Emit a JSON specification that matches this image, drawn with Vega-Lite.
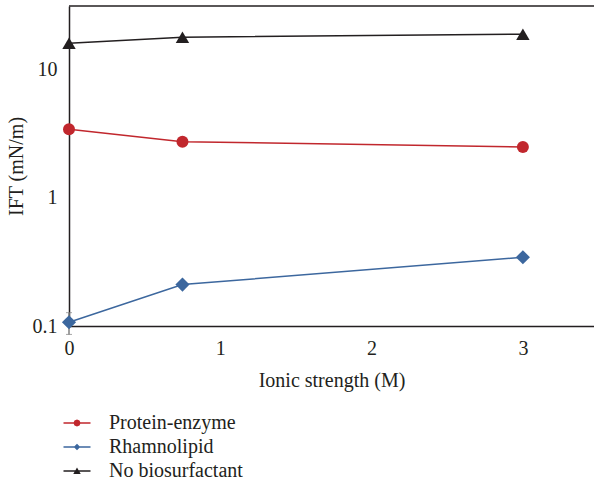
{
  "$schema": "https://vega.github.io/schema/vega-lite/v6.json",
  "width": 525,
  "height": 320,
  "autosize": "none",
  "padding": {"left": 69, "top": 6, "right": 0, "bottom": 161},
  "config": {
    "view": {"stroke": null},
    "font": "Liberation Serif",
    "axis": {
      "grid": false,
      "ticks": false,
      "domainColor": "#231f20",
      "domainWidth": 1.5,
      "labelFont": "Liberation Serif",
      "labelFontSize": 20,
      "labelColor": "#231f20",
      "titleFont": "Liberation Serif",
      "titleFontSize": 20,
      "titleFontWeight": "normal",
      "titleColor": "#231f20"
    }
  },
  "datasets": {
    "ift": [
      {"series": "Protein-enzyme", "strength": 0, "ift": 3.4},
      {"series": "Protein-enzyme", "strength": 0.75, "ift": 2.72},
      {"series": "Protein-enzyme", "strength": 3, "ift": 2.48},
      {"series": "Rhamnolipid", "strength": 0, "ift": 0.107},
      {"series": "Rhamnolipid", "strength": 0.75, "ift": 0.21},
      {"series": "Rhamnolipid", "strength": 3, "ift": 0.343},
      {"series": "No biosurfactant", "strength": 0, "ift": 15.9},
      {"series": "No biosurfactant", "strength": 0.75, "ift": 17.7},
      {"series": "No biosurfactant", "strength": 3, "ift": 18.7}
    ],
    "err": [{"strength": 0, "lo": 0.086, "hi": 0.127}],
    "frame": [{"x0": 0, "x1": 3.47, "top": 31}]
  },
  "encoding": {
    "x": {
      "field": "strength",
      "type": "quantitative",
      "scale": {"domain": [0, 3.47], "nice": false, "zero": false},
      "axis": {"values": [0, 1, 2, 3], "labelPadding": 12, "title": "Ionic strength (M)", "titlePadding": 12, "labelFlush": false}
    },
    "y": {
      "field": "ift",
      "type": "quantitative",
      "scale": {"type": "log", "domain": [0.1, 31], "nice": false},
      "axis": {"values": [0.1, 1, 10], "format": "~g", "labelPadding": 12, "title": "IFT (mN/m)", "titlePadding": 6}
    }
  },
  "layer": [
    {
      "data": {"name": "frame"},
      "mark": {"type": "rule", "color": "#231f20", "strokeWidth": 1.5},
      "encoding": {
        "x": {"field": "x0", "type": "quantitative"},
        "x2": {"field": "x1"},
        "y": {"field": "top", "type": "quantitative"}
      }
    },
    {
      "data": {"name": "err"},
      "mark": {"type": "errorbar", "ticks": {"size": 6, "color": "#808080"}, "rule": {"color": "#808080", "strokeWidth": 1.5}},
      "encoding": {
        "y": {"field": "lo", "type": "quantitative"},
        "y2": {"field": "hi"}
      }
    },
    {
      "data": {"name": "ift"},
      "transform": [{"filter": "datum.series === 'Protein-enzyme'"}],
      "mark": {"type": "line", "strokeWidth": 1.5, "color": "#c1272d"}
    },
    {
      "data": {"name": "ift"},
      "transform": [{"filter": "datum.series === 'Rhamnolipid'"}],
      "mark": {"type": "line", "strokeWidth": 1.5, "color": "#3c679e"}
    },
    {
      "data": {"name": "ift"},
      "transform": [{"filter": "datum.series === 'No biosurfactant'"}],
      "mark": {"type": "line", "strokeWidth": 1.5, "color": "#231f20"}
    },
    {
      "data": {"name": "ift"},
      "transform": [{"filter": "datum.series === 'Protein-enzyme'"}],
      "mark": {"type": "point", "shape": "circle", "filled": true, "size": 144, "opacity": 1, "color": "#c1272d"}
    },
    {
      "data": {"name": "ift"},
      "transform": [{"filter": "datum.series === 'Rhamnolipid'"}],
      "mark": {"type": "point", "shape": "diamond", "filled": true, "size": 200, "opacity": 1, "color": "#3c679e"}
    },
    {
      "data": {"name": "ift"},
      "transform": [{"filter": "datum.series === 'No biosurfactant'"}],
      "mark": {"type": "point", "shape": "triangle-up", "filled": true, "size": 180, "opacity": 1, "color": "#231f20"}
    },
    {
      "data": {"name": "ift"},
      "mark": {"type": "point", "filled": true, "size": 0},
      "encoding": {
        "color": {
          "field": "series",
          "type": "nominal",
          "scale": {"domain": ["Protein-enzyme", "Rhamnolipid", "No biosurfactant"], "range": ["#c1272d", "#3c679e", "#231f20"]},
          "legend": {
            "orient": "none",
            "legendX": -2,
            "legendY": 407,
            "title": null,
            "labelFont": "Liberation Serif",
            "labelFontSize": 20,
            "labelColor": "#231f20",
            "labelOffset": 22,
            "symbolSize": 144,
            "symbolStrokeWidth": 0,
            "symbolOpacity": 1,
            "rowPadding": 4,
            "encode": {"symbols": {"update": {"opacity": {"value": 1}, "fillOpacity": {"value": 1}, "size": {"value": 144}}}}
          }
        },
        "shape": {
          "field": "series",
          "type": "nominal",
          "scale": {
            "domain": ["Protein-enzyme", "Rhamnolipid", "No biosurfactant"],
            "range": [
              "M-2.25,-0.12L2.25,-0.12L2.25,0.12L-2.25,0.12Z M-0.6,0L-0.42,-0.42L0,-0.6L0.42,-0.42L0.6,0L0.42,0.42L0,0.6L-0.42,0.42Z",
              "M-2.25,-0.12L2.25,-0.12L2.25,0.12L-2.25,0.12Z M0,-0.55L0.55,0L0,0.55L-0.55,0Z",
              "M-2.25,-0.12L2.25,-0.12L2.25,0.12L-2.25,0.12Z M0,-0.6L0.62,0.5L-0.62,0.5Z"
            ]
          }
        }
      }
    }
  ]
}
